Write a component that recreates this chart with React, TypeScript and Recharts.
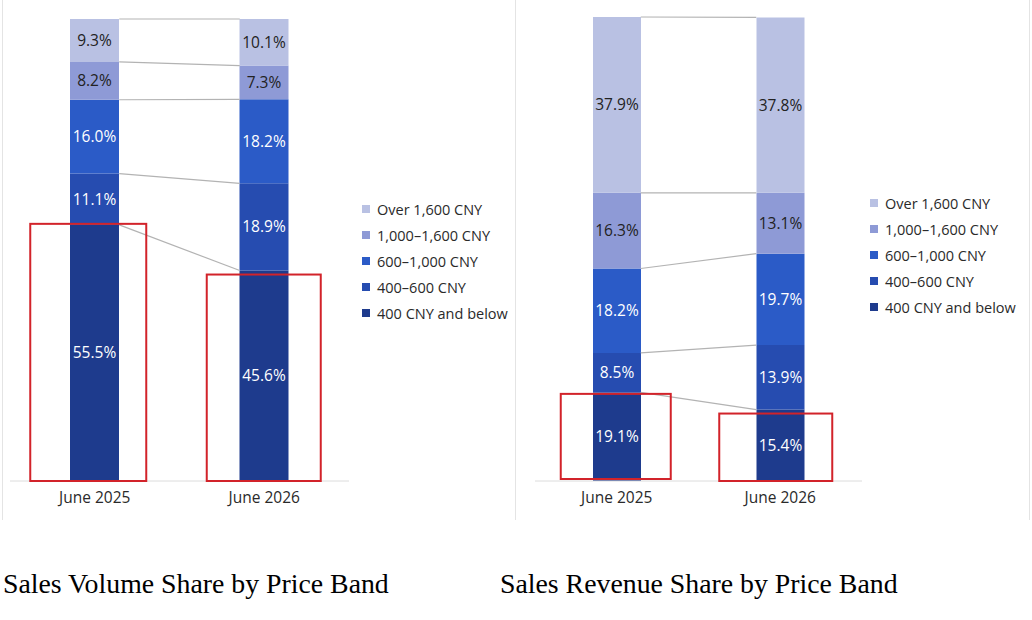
import React from 'react';
import * as Recharts from 'recharts';

const { BarChart, Bar, XAxis, YAxis, LabelList, Legend } = Recharts;
const Rx: any = Recharts;

// ---------- data ----------
const periods = ['June 2025', 'June 2026'];
const bands = ['400 CNY and below', '400–600 CNY', '600–1,000 CNY', '1,000–1,600 CNY', 'Over 1,600 CNY'];
const bandKeys = ['b0', 'b1', 'b2', 'b3', 'b4'];

const volBelow400 = [55.5, 45.6];
const vol400to600 = [11.1, 18.9];
const vol600to1000 = [16.0, 18.2];
const vol1000to1600 = [8.2, 7.3];
const volOver1600 = [9.3, 10.1];

const revBelow400 = [19.1, 15.4];
const rev400to600 = [8.5, 13.9];
const rev600to1000 = [18.2, 19.7];
const rev1000to1600 = [16.3, 13.1];
const revOver1600 = [37.9, 37.8];

const chartTitles = ['Sales Volume Share by Price Band', 'Sales Revenue Share by Price Band'];

// ---------- styles ----------
const bandColors = ['#1e3b8d', '#264cb0', '#2b5bc7', '#8e9ad6', '#b9c1e3'];
const labelColors = ['#ffffff', '#ffffff', '#ffffff', '#222222', '#222222'];
const FONT = '"Open Sans", "Noto Sans", sans-serif';

const buildRows = (series: number[][]) =>
  periods.map((p, i) => {
    const row: any = { period: p };
    series.forEach((s, k) => {
      row[bandKeys[k]] = s[i];
    });
    return row;
  });

const volumeRows = buildRows([volBelow400, vol400to600, vol600to1000, vol1000to1600, volOver1600]);
const revenueRows = buildRows([revBelow400, rev400to600, rev600to1000, rev1000to1600, revOver1600]);

function usePlot() {
  if (Rx.usePlotArea) return Rx.usePlotArea();
  const off = Rx.useOffset ? Rx.useOffset() : null;
  const w = Rx.useChartWidth ? Rx.useChartWidth() : 0;
  const h = Rx.useChartHeight ? Rx.useChartHeight() : 0;
  if (!off) return null;
  return { x: off.left, y: off.top, width: w - off.left - off.right, height: h - off.top - off.bottom };
}

type BoxStyle = { padL: number; padR: number; dTop: number; dBottom: number };

function Overlay({ rows, barSize, yMax, boxes }: { rows: any[]; barSize: number; yMax: number; boxes: BoxStyle[] }) {
  const plot = usePlot();
  const ys = Rx.useYAxisScale ? Rx.useYAxisScale() : null;
  if (!plot || !plot.width) return null;
  const y = (v: number) => {
    const r = typeof ys === 'function' ? ys(v) : NaN;
    return Number.isFinite(r) ? r : plot.y + plot.height * (1 - v / yMax);
  };
  const band = plot.width / rows.length;
  const cx = (i: number) => plot.x + band * (i + 0.5);
  const cums = rows.map((r) => {
    let acc = 0;
    return bandKeys.map((k) => (acc += r[k]));
  });
  const lines = bandKeys.map((_, k) => (
    <line
      key={'c' + k}
      x1={cx(0) + barSize / 2}
      y1={y(cums[0][k])}
      x2={cx(1) - barSize / 2}
      y2={y(cums[1][k])}
      stroke="#b3b3b3"
      strokeWidth={1.2}
    />
  ));
  const rects = rows.map((r, i) => {
    const b = boxes[i];
    const x0 = cx(i) - barSize / 2 - b.padL;
    const x1 = cx(i) + barSize / 2 + b.padR;
    const y0 = y(r[bandKeys[0]]) + b.dTop;
    const y1 = y(0) + b.dBottom;
    return <rect key={'r' + i} x={x0} y={y0} width={x1 - x0} height={y1 - y0} fill="none" stroke="#d2232a" strokeWidth={2} />;
  });
  const content = (
    <g>
      {lines}
      {rects}
    </g>
  );
  if (Rx.ZIndexLayer) {
    const ZL = Rx.ZIndexLayer;
    return <ZL zIndex={2000}>{content}</ZL>;
  }
  return content;
}

const LegendBox = () => (
  <div style={{ fontFamily: FONT, fontSize: 14.5, color: '#2a2a2a' }}>
    {bands
      .map((b, k) => ({ b, k }))
      .reverse()
      .map(({ b, k }) => (
        <div key={b} style={{ display: 'flex', alignItems: 'center', height: 26, whiteSpace: 'nowrap' }}>
          <span style={{ display: 'inline-block', width: 8, height: 8, background: bandColors[k], marginRight: 7 }} />
          <span>{b}</span>
        </div>
      ))}
  </div>
);

function ShareChart({
  rows,
  yMax,
  margin,
  barSize,
  legendPos,
  boxes,
}: {
  rows: any[];
  yMax: number;
  margin: any;
  barSize: number;
  legendPos: { left: number; top: number };
  boxes: BoxStyle[];
}) {
  return (
    <BarChart width={516} height={520} data={rows} margin={margin} barCategoryGap={0}>
      <XAxis
        dataKey="period"
        axisLine={{ stroke: '#dcdcdc' }}
        tickLine={false}
        tick={{ fontSize: 15.5, fill: '#2a2a2a', fontFamily: FONT }}
        tickMargin={5}
        height={30}
        interval={0}
      />
      <YAxis hide type="number" domain={[0, yMax]} allowDataOverflow width={0} />
      {bandKeys.map((k, idx) => (
        <Bar key={k} dataKey={k} name={bands[idx]} stackId="s" fill={bandColors[idx]} barSize={barSize} isAnimationActive={false}>
          <LabelList
            dataKey={k}
            position="center"
            fill={labelColors[idx]}
            fontSize={15.5}
            fontFamily={FONT}
            formatter={(v: any) => `${Number(v).toFixed(1)}%`}
          />
        </Bar>
      ))}
      <Legend
        layout="vertical"
        align="center"
        verticalAlign="middle"
        content={() => <LegendBox />}
        wrapperStyle={{ left: legendPos.left, top: legendPos.top, width: 'auto', height: 'auto' }}
      />
      <Overlay rows={rows} barSize={barSize} yMax={yMax} boxes={boxes} />
    </BarChart>
  );
}

const volumeTotal = Math.max(...volumeRows.map((r: any) => bandKeys.reduce((s, k) => s + r[k], 0)));
const revenueTotal = Math.max(...revenueRows.map((r: any) => bandKeys.reduce((s, k) => s + r[k], 0)));

export default function App() {
  const border = '#e4e4e4';
  return (
    <div style={{ position: 'absolute', left: 0, top: 0, width: 1032, height: 620, background: '#ffffff', overflow: 'hidden' }}>
      <div style={{ position: 'absolute', left: 0, top: 0 }}>
        <ShareChart
          rows={volumeRows}
          yMax={Math.round(volumeTotal * 10) / 10}
          margin={{ top: 19, right: 167, left: 10, bottom: 9 }}
          barSize={49}
          legendPos={{ left: 362, top: 196 }}
          boxes={[
            { padL: 40, padR: 27, dTop: -1, dBottom: 0 },
            { padL: 33, padR: 32, dTop: 4, dBottom: 0 },
          ]}
        />
      </div>
      <div style={{ position: 'absolute', left: 516, top: 0 }}>
        <ShareChart
          rows={revenueRows}
          yMax={Math.round(revenueTotal * 10) / 10}
          margin={{ top: 17, right: 170, left: 19, bottom: 9 }}
          barSize={48}
          legendPos={{ left: 354, top: 190 }}
          boxes={[
            { padL: 32, padR: 30, dTop: 1.5, dBottom: -2 },
            { padL: 37, padR: 28, dTop: 4, dBottom: 0 },
          ]}
        />
      </div>
      <div style={{ position: 'absolute', left: 2, top: 0, width: 1, height: 520, background: border }} />
      <div style={{ position: 'absolute', left: 515, top: 0, width: 1, height: 520, background: border }} />
      <div style={{ position: 'absolute', left: 1029, top: 0, width: 1, height: 520, background: border }} />
      {chartTitles.map((t, i) => (
        <div
          key={t}
          style={{
            position: 'absolute',
            left: i === 0 ? 3 : 500,
            top: 570,
            fontFamily: '"Liberation Serif", "Times New Roman", serif',
            fontSize: 27.8,
            lineHeight: 1,
            color: '#000',
            whiteSpace: 'nowrap',
          }}
        >
          {t}
        </div>
      ))}
    </div>
  );
}
